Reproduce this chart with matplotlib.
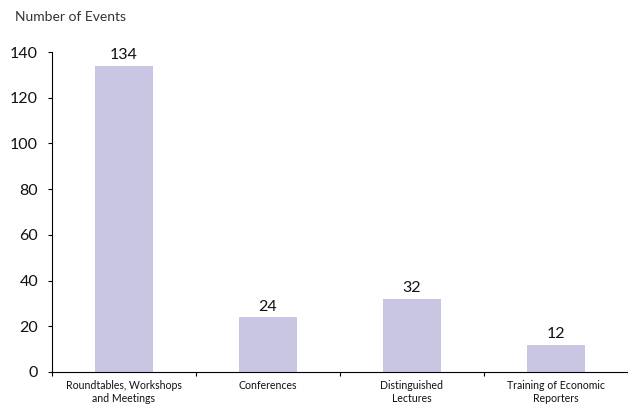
import numpy as np
import matplotlib
matplotlib.use('Agg')
import matplotlib.pyplot as plt

# data
categories = ['Roundtables, Workshops\nand Meetings', 'Conferences',
              'Distinguished\nLectures', 'Training of Economic\nReporters']
events = [134, 24, 32, 12]
yticks = [0, 20, 40, 60, 80, 100, 120, 140]

plt.rcParams['font.family'] = ['Lato', 'DejaVu Sans']

fig = plt.figure(figsize=(6.28, 4.07), dpi=100)
ax = fig.add_axes([0.0828, 0.086, 0.9172, 0.786])

x = np.arange(len(categories))
ax.bar(x, events, width=0.4, color='#c8c6e3')
for xi, v in zip(x, events):
    ax.text(xi, v + 1.5, str(v), ha='center', va='bottom', fontsize=11.5, color='#111111')

ax.set_xlim(-0.5, len(categories) - 0.5)
ax.set_ylim(0, 140)
ax.set_yticks(yticks)
ax.set_yticklabels([str(t) for t in yticks], fontsize=11.5, color='#111111')

# ticks sit on the category boundaries, labels in the middle
ax.set_xticks(np.arange(len(categories) + 1) - 0.5)
ax.set_xticklabels([])
ax.set_xticks(x, minor=True)
ax.set_xticklabels(categories, minor=True, fontsize=7.6, color='#111111')
ax.tick_params(axis='x', which='minor', length=0, pad=6)
ax.tick_params(axis='x', which='major', length=3, direction='out')
ax.tick_params(axis='y', length=3, direction='out', pad=7)

ax.spines['top'].set_visible(False)
ax.spines['right'].set_visible(False)

fig.text(15 / 628, 1 - 17 / 407, 'Number of Events', fontsize=10, color='#333333', va='center')

fig.savefig('out.png', dpi=100)
